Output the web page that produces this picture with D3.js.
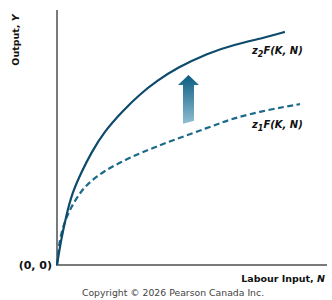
<!DOCTYPE html>
<html>
<head>
<meta charset="utf-8">
<script src="https://cdn.jsdelivr.net/npm/d3@7"></script>
<style>
  html, body { margin:0; padding:0; background:#fff; }
  svg { display:block; }
  text { font-family: "DejaVu Sans", Verdana, sans-serif; }
</style>
</head>
<body>
<svg id="chart" width="332" height="300"></svg>
<script>
/* values: labour input N vs output Y */
const labourN  = [0, 0.15, 0.33, 0.56, 0.89, 1.26, 1.74, 2.44, 3.07, 3.70, 4.44, 5.59, 6.52, 7.78, 8.44];
const outputZ2 = [0, 0.98, 1.88, 2.82, 3.61, 4.39, 5.22, 6.05, 6.70, 7.22, 7.73, 8.31, 8.63, 8.94, 9.14];

const labourN1 = [0, 0.07, 0.26, 0.52, 0.89, 1.26, 1.74, 2.37, 3.07, 4.30, 5.56, 6.52, 7.78, 9.00];
const outputZ1 = [0, 0.86, 1.65, 2.27, 2.90, 3.30, 3.68, 4.04, 4.39, 4.90, 5.37, 5.76, 6.08, 6.31];

const curveLabels = ["2", "1"];   // subscripts of z
const shiftArrow  = {n: 4.87, from: 5.6, to: 7.45};  // arrow position in data units

const svg = d3.select("#chart");
const x0 = 57, y0 = 265;
const x = d3.scaleLinear().domain([0, 10]).range([x0, 327]);
const y = d3.scaleLinear().domain([0, 10]).range([y0, 10]);

/* gradient for the shift arrow */
const grad = svg.append("defs").append("linearGradient")
  .attr("id", "arrGrad").attr("x1", 0).attr("y1", 0).attr("x2", 0).attr("y2", 1);
grad.append("stop").attr("offset", "0%").attr("stop-color", "#0c5c80");
grad.append("stop").attr("offset", "100%").attr("stop-color", "#8ebdd2");

/* axes */
svg.append("line").attr("x1", x0).attr("x2", x0).attr("y1", y(10)).attr("y2", y0 + 1)
  .attr("stroke", "#7a7a7a").attr("stroke-width", 2);
svg.append("line").attr("x1", x0 - 1).attr("x2", x(10)).attr("y1", y0).attr("y2", y0)
  .attr("stroke", "#7a7a7a").attr("stroke-width", 2);

const line = d3.line().x(d => x(d[0])).y(d => y(d[1])).curve(d3.curveBasis);

svg.append("path")
  .attr("d", line(d3.zip(labourN1, outputZ1)))
  .attr("fill", "none").attr("stroke", "#1b6a8a").attr("stroke-width", 2.2)
  .attr("stroke-dasharray", "6,3.5");

svg.append("path")
  .attr("d", line(d3.zip(labourN, outputZ2)))
  .attr("fill", "none").attr("stroke", "#0d4a6c").attr("stroke-width", 2.2);

/* arrow */
const ax = x(shiftArrow.n), ayTop = y(shiftArrow.to), ayBot = y(shiftArrow.from);
svg.append("path")
  .attr("d", `M${ax-5.5},${ayBot+1.5} L${ax-5.5},${ayTop+10} L${ax-10.5},${ayTop+10} L${ax},${ayTop}
              L${ax+10.5},${ayTop+10} L${ax+5.5},${ayTop+10} L${ax+5.5},${ayBot-1.5} Z`)
  .attr("fill", "url(#arrGrad)");

/* curve labels */
function zLabel(sub, ly) {
  const t = svg.append("text").attr("x", 252).attr("y", ly)
    .attr("font-size", 10).attr("font-weight", "bold").attr("font-style", "italic").attr("fill", "#111");
  t.append("tspan").text("z");
  t.append("tspan").attr("dy", 3).attr("font-size", 8).text(sub);
  t.append("tspan").attr("dy", -3).text("F(K, N)");
}
zLabel(curveLabels[0], 54);
zLabel(curveLabels[1], 128);

/* axis labels */
svg.append("text").attr("transform", "translate(19,40) rotate(-90)")
  .attr("text-anchor", "middle").attr("font-size", 9.5).attr("font-weight", "bold").attr("fill", "#111")
  .text("Output, ")
  .append("tspan").attr("font-style", "italic").text("Y");

svg.append("text").attr("x", 52).attr("y", 269).attr("text-anchor", "end")
  .attr("font-family", "'Liberation Serif', 'Times New Roman', serif")
  .attr("font-size", 11).attr("font-weight", "bold").attr("fill", "#111")
  .text("(0, 0)");

svg.append("text").attr("x", 325).attr("y", 282).attr("text-anchor", "end")
  .attr("font-size", 9.5).attr("font-weight", "bold").attr("fill", "#111")
  .text("Labour Input, ")
  .append("tspan").attr("font-style", "italic").text("N");

svg.append("text").attr("x", 173).attr("y", 296).attr("text-anchor", "middle")
  .attr("font-size", 9.3).attr("fill", "#444")
  .text("Copyright © 2026 Pearson Canada Inc.");
</script>
</body>
</html>
